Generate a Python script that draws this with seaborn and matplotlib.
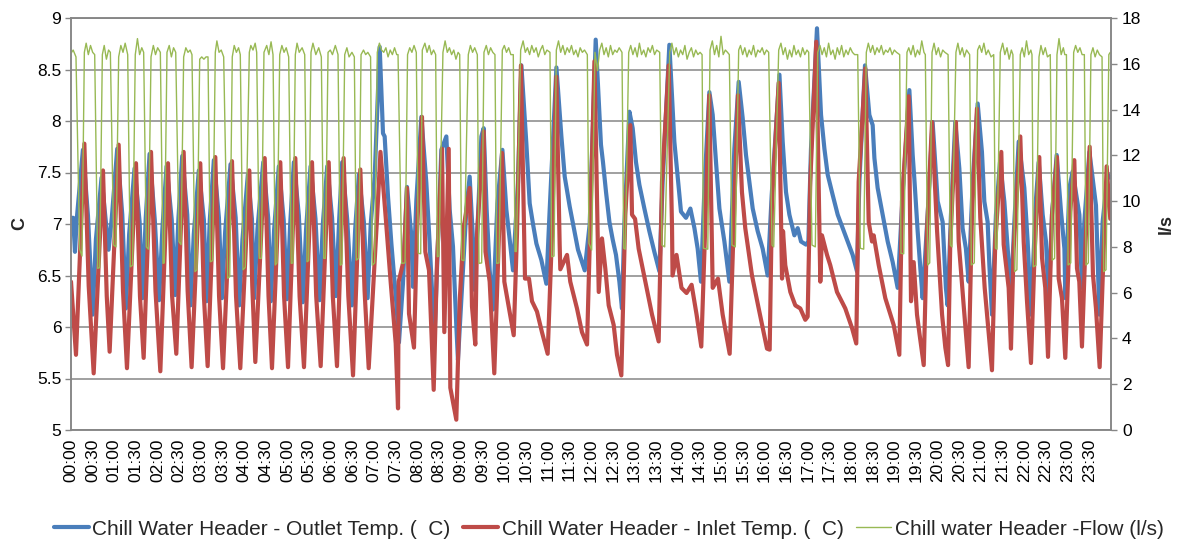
import matplotlib
matplotlib.use("Agg")
import matplotlib.pyplot as plt
import seaborn as sns
import pandas as pd

# minutes after midnight, value
outlet_pts = [
    (0, 7.06), (3, 7.06), (5.5, 6.73), (8, 7.05),
    (16.5, 7.72), (23.5, 7.08), (30, 6.12), (34.5, 6.85),
    (42.3, 7.45), (49.3, 6.95), (52, 6.75), (56.5, 7.06),
    (64, 7.73), (71, 7.09), (76, 6.18), (80.5, 6.90),
    (88, 7.54), (95, 7.02), (99, 6.28), (103.5, 7.06),
    (108.8, 7.68), (116, 7.04), (122, 6.26), (126.5, 6.95),
    (132.3, 7.56), (139.5, 7.04), (144.3, 6.31), (148.8, 7.06),
    (154, 7.66), (161, 7.09), (165.5, 6.21), (170, 6.90),
    (177, 7.52), (184, 7.04), (187.7, 6.25), (192.2, 7.04),
    (197.8, 7.62), (204.8, 7.06), (209, 6.28), (213.5, 6.93),
    (220.9, 7.58), (228, 7.06), (232.9, 6.21), (237.4, 6.85),
    (244.9, 7.48), (250.5, 7.05), (253.7, 6.28), (258.2, 6.95),
    (266.2, 7.60), (273, 7.06), (276.8, 6.25), (281.3, 6.95),
    (287.8, 7.56), (294.5, 7.04), (299, 6.27), (303.5, 7.00),
    (308.6, 7.60), (315.5, 7.08), (321, 6.24), (325.5, 6.95),
    (331.7, 7.56), (338.5, 7.05), (344.2, 6.26), (348.7, 7.00),
    (354.8, 7.56), (361.5, 7.06), (366.8, 6.30), (371.3, 7.04),
    (375.5, 7.60), (382.5, 7.04), (389, 6.21), (393.5, 6.95),
    (398.6, 7.48), (405.5, 7.02), (410.7, 6.28), (415, 7.00),
    (420.5, 7.46), (427.4, 8.72), (432, 7.88), (434.3, 7.85),
    (438.9, 7.27), (443.6, 6.81), (450.5, 6.23), (454.1, 5.85),
    (459.6, 6.42), (465.2, 7.36), (471.3, 6.88), (473.5, 6.39),
    (478.2, 7.23), (485.1, 8.04), (492, 7.40), (496.6, 6.81),
    (501.2, 6.17), (503.5, 5.94), (512.8, 7.72), (519.7, 7.85),
    (524.3, 7.14), (528.9, 6.78), (533.6, 6.00), (535.8, 5.68),
    (547.4, 7.14), (552, 7.46), (556.2, 6.90), (558.9, 6.36),
    (563.5, 7.07), (568.2, 7.85), (571.4, 7.93), (575.5, 7.14),
    (579.7, 6.55), (584.3, 6.17), (590.4, 7.20), (597.3, 7.72),
    (602.8, 7.14), (607.4, 6.85), (612, 6.55), (618.9, 7.40),
    (623.6, 8.54), (630.5, 7.78), (635.1, 7.20), (639.7, 7.00),
    (644.4, 6.81), (651.3, 6.65), (658.2, 6.42), (662.8, 7.14),
    (672.1, 8.52), (679, 7.85), (683.6, 7.46), (690.5, 7.17),
    (695.1, 7.00), (702, 6.75), (711.3, 6.55), (718.2, 7.00),
    (726.5, 8.79), (733.8, 7.77), (736.6, 7.60), (740.8, 7.31),
    (745.5, 7.02), (750, 6.85), (754.6, 6.70), (759.3, 6.44),
    (762.9, 6.18), (766.2, 7.00), (773.2, 8.09), (777.7, 7.93),
    (782.3, 7.60), (787, 7.38), (793.9, 7.15), (800.8, 6.93),
    (807.7, 6.73), (814.7, 6.54), (819.2, 7.41), (828.5, 8.74),
    (835.4, 7.80), (840, 7.46), (844.6, 7.12), (851.5, 7.06),
    (857.6, 7.15), (863.2, 6.96), (867.7, 6.76), (872.3, 6.44),
    (877.4, 7.41), (883.9, 8.28), (888.5, 8.06), (893.1, 7.60),
    (897.8, 7.15), (904.7, 6.83), (911.6, 6.44), (918.5, 7.73),
    (924.5, 8.38), (930, 8.03), (934.6, 7.67), (939.3, 7.41),
    (943.9, 7.15), (950.8, 6.93), (957.7, 6.76), (964.6, 6.50),
    (970.2, 7.28), (980.9, 8.45), (985.4, 7.80), (990, 7.31),
    (994.7, 7.09), (1001.6, 6.89), (1006.2, 6.96), (1010.8, 6.83),
    (1017.7, 6.80), (1021, 6.83), (1024.6, 7.73), (1032.9, 8.90),
    (1038.5, 8.06), (1043.2, 7.73), (1047.7, 7.48), (1054.7, 7.28),
    (1061.6, 7.09), (1068.5, 6.96), (1075.4, 6.83), (1082.3, 6.70),
    (1088.3, 6.54), (1091.6, 7.41), (1099.4, 8.54), (1105.4, 8.06),
    (1110, 7.96), (1112.4, 7.64), (1116.9, 7.35), (1123.8, 7.09),
    (1130.8, 6.83), (1137.7, 6.63), (1144.6, 6.38), (1151.5, 7.28),
    (1160.8, 8.30), (1165.4, 7.67), (1167.7, 7.44), (1172.3, 6.93),
    (1176, 6.57), (1179.2, 6.28), (1186.1, 7.09), (1193, 7.99),
    (1200, 7.22), (1206.9, 7.02), (1211.4, 6.38), (1213.8, 6.21),
    (1218.4, 7.09), (1224.4, 7.99), (1230, 7.54), (1234.5, 6.96),
    (1239.1, 6.76), (1242.9, 6.44), (1248.5, 7.41), (1255.4, 8.17),
    (1261.3, 7.70), (1264.6, 7.22), (1269.2, 7.02), (1271.6, 6.60),
    (1275.2, 6.12), (1280.7, 7.09), (1286.3, 7.60), (1292.3, 7.22),
    (1296.9, 6.76), (1301.5, 6.31), (1306.2, 7.02), (1312.2, 7.80),
    (1320, 7.35), (1324.6, 6.83), (1329.2, 6.12), (1336.2, 7.25),
    (1339.9, 7.60), (1345.4, 7.09), (1350, 6.83), (1353.7, 6.25),
    (1358.3, 7.09), (1364.8, 7.67), (1370.8, 7.12), (1375.5, 6.76),
    (1376.8, 6.28), (1382.4, 7.35), (1386.9, 7.51), (1396.2, 7.09),
    (1399.8, 6.38), (1403.1, 7.02), (1410.1, 7.70), (1419.2, 7.18),
    (1423.9, 6.12), (1428.4, 7.02), (1435.3, 7.48), (1439, 7.45),
]

inlet_pts = [
    (0, 6.44), (6.9, 5.73), (18.5, 7.78), (24.5, 6.40), (31.4, 5.55),
    (44.3, 7.52), (49.5, 6.30), (53.5, 5.76), (66, 7.77), (72, 6.35),
    (77.5, 5.60), (90, 7.59), (95.5, 6.30), (100.6, 5.70), (110.8, 7.70),
    (117, 6.35), (123.7, 5.57), (134.3, 7.59), (140, 6.30), (145.8, 5.74),
    (156, 7.70), (161.5, 6.35), (167, 5.61), (179, 7.59), (184, 6.30),
    (189.2, 5.62), (199.8, 7.65), (205, 6.30), (210.5, 5.60), (222.9, 7.61),
    (228.5, 6.30), (234.4, 5.60), (246.9, 7.52), (251, 6.40), (255.2, 5.66),
    (268.2, 7.64), (273.5, 6.30), (278.3, 5.60), (289.8, 7.60), (295, 6.30),
    (300.5, 5.61), (310.6, 7.64), (316.5, 6.30), (322.6, 5.61), (333.7, 7.60),
    (339.5, 6.30), (345.7, 5.62), (356.8, 7.60), (362.5, 6.30), (368.3, 5.62),
    (377.5, 7.64), (384, 6.30), (390.5, 5.53), (400.6, 7.53), (406.5, 6.35),
    (412.2, 5.60), (423.7, 7.05), (428.5, 7.70), (435.7, 7.07), (442.7, 6.43),
    (449.6, 5.84), (452.8, 5.21), (453.7, 6.44), (460.7, 6.65), (465.2, 7.35),
    (468, 6.13), (474.9, 5.80), (479, 6.90), (486, 8.04), (490.6, 6.73),
    (495.7, 6.55), (502.2, 5.39), (506.8, 6.63), (513.7, 7.73), (516.9, 5.95),
    (523, 7.73), (525.2, 5.41), (533.5, 5.10), (538.2, 6.25), (543.7, 6.96),
    (552, 7.35), (555.2, 6.20), (559.8, 5.83), (562.2, 6.90), (571.4, 7.90),
    (573.9, 6.73), (579.7, 6.44), (586.1, 5.55), (592.6, 6.90), (596.8, 7.69),
    (600, 6.44), (606, 6.20), (613, 5.92), (617.5, 6.90), (623, 8.54),
    (627.6, 6.86), (628.6, 6.47), (634.1, 6.47), (638.3, 6.25), (645.2, 6.15),
    (652.1, 5.95), (660, 5.74), (666, 6.90), (672, 8.43), (676.6, 6.80),
    (677.5, 6.56), (686.8, 6.70), (691.3, 6.44), (700.6, 6.18), (707.5, 5.95),
    (714.5, 5.83), (719, 7.00), (724.8, 8.58), (730.7, 6.34), (735.2, 6.86),
    (739.8, 6.57), (744.5, 6.21), (751.4, 6.02), (756, 5.73), (762, 5.53),
    (767.5, 7.09), (774.4, 7.96), (776.8, 7.09), (781, 7.05), (786, 6.76),
    (795.2, 6.44), (804.5, 6.12), (813.7, 5.86), (818.3, 7.41), (827.6, 8.54),
    (832.2, 6.96), (832.9, 6.50), (838.4, 6.70), (845.3, 6.38), (852.3, 6.33),
    (859.3, 6.41), (866.2, 6.12), (872.7, 5.81), (878.3, 7.00), (883.8, 8.25),
    (887.5, 6.80), (888.5, 6.38), (895.8, 6.47), (902.3, 6.12), (912, 5.74),
    (917.6, 7.00), (923.5, 8.25), (929, 7.31), (933.6, 6.96), (942.9, 6.50),
    (952.2, 6.18), (963.7, 5.79), (967.4, 5.78), (970.6, 7.22), (979.9, 8.37),
    (984.5, 6.47), (985.9, 6.93), (989, 6.60), (996, 6.34), (1002.9, 6.21),
    (1009.8, 6.18), (1016.7, 6.07), (1020, 6.10), (1023.6, 7.41), (1031.9, 8.77),
    (1037.5, 6.44), (1039.8, 6.89), (1046.8, 6.70), (1051.3, 6.60), (1060.6, 6.34),
    (1072.1, 6.18), (1081.4, 5.99), (1087.3, 5.84), (1090.6, 7.41), (1099.8, 8.51),
    (1104.5, 7.02), (1109.1, 6.83), (1111.4, 6.89), (1118.4, 6.60), (1127.5, 6.28),
    (1139.1, 6.02), (1146.9, 5.73), (1150.6, 7.22), (1159.9, 8.24), (1163.1, 6.25),
    (1166.8, 6.63), (1171.4, 6.12), (1175.1, 5.92), (1180.7, 5.63), (1185.2, 6.93),
    (1192.2, 7.99), (1199.2, 6.93), (1206.1, 6.12), (1210.6, 5.80), (1214.4, 5.63),
    (1217.5, 6.83), (1225.3, 7.99), (1229.1, 6.83), (1236, 6.21), (1242.9, 5.61),
    (1247.5, 7.09), (1254.4, 8.12), (1259, 7.06), (1265.1, 6.38), (1275.2, 5.58),
    (1279.8, 6.83), (1288.1, 7.70), (1291.4, 6.80), (1298.3, 6.38), (1301.5, 5.79),
    (1305.2, 6.76), (1314.4, 7.85), (1319.1, 6.83), (1323.7, 6.25), (1329.2, 5.65),
    (1334.3, 6.73), (1340.7, 7.65), (1344.5, 6.67), (1349, 6.38), (1352.8, 5.71),
    (1358.3, 7.09), (1365.2, 7.65), (1367.6, 6.47), (1372.1, 6.28), (1376.7, 5.70),
    (1383.6, 7.12), (1389.2, 7.62), (1392.9, 6.57), (1396.1, 6.44), (1399.8, 5.81),
    (1404.4, 6.76), (1410.5, 7.75), (1415, 6.51), (1419.2, 6.18), (1424.3, 5.61),
    (1429.9, 6.76), (1434, 7.56), (1439, 7.05),
]

flow_pts = [
    (0, 16.46), (3, 16.6), (6.9, 16.3), (12, 7.9), (15.2, 7.6), (18.5, 16.5),
    (21, 16.9), (24, 16.4), (27, 16.8), (30, 16.5),
    (32.8, 16.4), (37, 7.06), (39.7, 7.1), (43.4, 16.4),
    (46, 16.8), (49, 16.2), (52, 16.6),
    (54.5, 16.5), (59.1, 8.08), (62.3, 8.0), (66, 16.3),
    (69, 16.8), (72, 16.5), (75, 16.9),
    (78.5, 16.4), (82.1, 7.13), (85.3, 7.2), (89, 16.4),
    (92, 17.1), (95, 16.4), (98, 16.7),
    (100.6, 16.5), (104.3, 8.0), (107, 7.9), (110.8, 16.3),
    (114, 16.8), (117, 16.4), (120, 16.7),
    (123.7, 16.5), (127.4, 7.28), (129.2, 7.3), (132.9, 16.5),
    (136, 16.8), (139, 16.3), (142, 16.7),
    (145, 16.5), (149.5, 8.23), (152.3, 8.1), (156, 16.3),
    (159, 16.7), (162, 16.5), (165, 16.6),
    (167.5, 16.4), (171.7, 6.92), (174.4, 7.0), (178.2, 16.2),
    (181, 16.3), (184, 16.2), (187, 16.3),
    (189.7, 16.3), (192.9, 7.35), (196.1, 7.4), (199.8, 16.5),
    (202, 17.0), (205, 16.5), (208, 16.6),
    (211.4, 16.3), (217, 6.63), (219.8, 6.7), (223.3, 16.3),
    (226, 16.8), (229, 16.5), (232, 16.7),
    (234.4, 16.4), (238.1, 7.0), (241.3, 7.1), (246.9, 16.5),
    (249, 16.8), (252, 16.6), (255, 16.9),
    (257.1, 16.5), (260.7, 7.5), (263.5, 7.5), (267.2, 16.5),
    (271, 16.8), (274, 16.4), (277, 16.96),
    (279.7, 16.4), (282.9, 7.21), (285.2, 7.3), (289, 16.4),
    (292, 16.8), (295, 16.5), (298, 16.7),
    (301.4, 16.3), (305, 7.28), (307.3, 7.3), (310.6, 16.4),
    (313, 16.9), (316, 16.5), (320, 16.7),
    (323.6, 16.4), (326.8, 7.35), (329.1, 7.4), (332.3, 16.5),
    (335, 16.9), (339, 16.4), (343, 16.7),
    (346.6, 16.3), (349.9, 7.5), (352.2, 7.5), (355.9, 16.5),
    (359, 16.6), (362, 16.4), (366, 16.8),
    (369.7, 16.4), (372.9, 7.2), (375.2, 7.25), (379, 16.4),
    (382, 16.7), (385, 16.3), (389, 16.5),
    (392.3, 16.3), (395, 7.42), (398.3, 7.5), (401.6, 16.4),
    (405, 16.6), (408, 16.4), (411, 16.5),
    (414.8, 16.3), (417.2, 7.2), (420.4, 7.3), (424.1, 16.5),
    (427, 16.9), (430, 16.6), (433, 16.5), (436, 16.7), (439, 16.3),
    (442, 16.6), (445, 16.4), (448, 16.7), (451, 16.4),
    (452.8, 16.4), (457.9, 7.28), (462.5, 7.3), (466, 16.4),
    (469, 16.7), (472, 16.5), (475, 16.8),
    (478.1, 16.5), (480.9, 7.72), (484.2, 7.7), (486.4, 16.6),
    (490, 16.9), (493, 16.5), (496, 16.8), (499, 16.4), (502, 16.6),
    (504.9, 16.4), (507.2, 7.57), (509.5, 7.6), (515, 16.5),
    (518, 17.0), (521, 16.5), (524, 16.7), (527, 16.4), (530, 16.6),
    (533, 16.2), (536, 16.5),
    (538.2, 16.4), (540.9, 7.43), (544.2, 7.4), (550.1, 16.4),
    (553, 16.8), (556, 16.5), (559, 16.7),
    (562.6, 16.4), (564.9, 7.28), (568.6, 7.3), (571.8, 16.5),
    (575, 16.8), (578, 16.4), (581, 16.7), (584, 16.5),
    (587, 16.4), (589.4, 7.28), (592.6, 7.3), (597.2, 16.6),
    (600, 16.8), (603, 16.5), (606, 16.7), (609, 16.4),
    (612.4, 16.4), (614.8, 7.8), (616.6, 7.8), (622.6, 16.6),
    (626, 17.0), (629, 16.5), (632, 16.7), (635, 16.4), (638, 16.8),
    (641, 16.5), (644, 16.7), (647, 16.3), (650, 16.6), (653, 16.8),
    (656, 16.4), (659, 16.6),
    (663.2, 16.5), (665.6, 7.57), (668.8, 7.6), (672, 16.6),
    (675, 17.0), (678, 16.5), (681, 16.8), (684, 16.4), (687, 16.7),
    (690, 16.5), (693, 16.8), (696, 16.4), (699, 16.6), (702, 16.3),
    (705, 16.7), (708, 16.5), (711, 16.6),
    (714.9, 16.4), (717.2, 8.16), (720.9, 7.86), (725.5, 16.5),
    (729, 15.7), (732, 16.6), (735, 16.9), (738, 16.4), (741, 16.7),
    (744, 16.3), (747, 16.8), (750, 16.4), (753, 16.6), (756, 16.5),
    (759, 16.7),
    (762.9, 16.5), (765.3, 7.94), (767.5, 7.9), (772.2, 16.5),
    (775, 16.8), (778, 16.4), (781, 16.7), (784, 16.3), (787, 16.9),
    (790, 16.4), (793, 16.6), (796, 16.3), (799, 16.7), (802, 16.5),
    (805, 16.8), (808, 16.4), (811, 16.6),
    (815.1, 16.5), (818.3, 8.08), (822, 8.0), (829, 16.5),
    (832, 16.9), (835, 16.4), (838, 16.7), (841, 16.3), (844, 16.6),
    (847, 16.4), (850, 16.8), (853, 16.2), (856, 16.5), (859, 16.7),
    (862, 16.3), (865, 16.6), (868, 16.4), (871, 16.5),
    (873.8, 16.4), (875.7, 7.94), (881.7, 7.9), (884.8, 16.6),
    (888, 17.0), (891, 16.4), (894, 16.8), (897, 16.3), (900, 17.2),
    (903, 16.4), (906, 16.6), (909, 16.5),
    (911.5, 16.4), (915.2, 8.08), (919.8, 8.0), (924.5, 16.6),
    (927, 16.8), (930, 16.4), (933, 16.7), (936, 16.3), (939, 16.6),
    (942, 16.4), (945, 16.8), (948, 16.3), (951, 16.6), (954, 16.5),
    (957, 16.7), (960, 16.4), (963, 16.6),
    (966, 16.5), (970.7, 8.08), (973, 8.0), (979.9, 16.6),
    (983, 16.9), (986, 16.4), (989, 16.7), (992, 16.2), (995, 16.6),
    (998, 16.3), (1001, 16.8), (1004, 16.4), (1007, 16.6), (1010, 16.3),
    (1013, 16.7), (1016, 16.4), (1019, 16.6),
    (1021.4, 16.5), (1026, 8.08), (1030.6, 8.0), (1033.9, 16.5),
    (1037, 16.8), (1040, 16.4), (1043, 16.7), (1046, 16.3), (1049, 16.9),
    (1052, 16.4), (1055, 16.6), (1058, 16.2), (1061, 16.7), (1064, 16.4),
    (1067, 16.8), (1070, 16.3), (1073, 16.6), (1076, 16.4), (1079, 16.7),
    (1082, 16.5), (1085, 16.4),
    (1089.3, 16.4), (1092.9, 7.94), (1097.6, 7.9), (1101.2, 16.5),
    (1104, 16.9), (1107, 16.5), (1110, 16.8), (1113, 16.4), (1116, 16.7),
    (1119, 16.5), (1122, 16.8), (1125, 16.4), (1128, 16.6), (1131, 16.5),
    (1134, 16.7), (1137, 16.4), (1140, 16.6), (1143, 16.5),
    (1147.4, 16.4), (1149.2, 7.72), (1153, 7.7), (1157.5, 16.5),
    (1160, 16.7), (1163, 16.4), (1166, 16.8), (1169, 16.3), (1172, 16.6),
    (1175, 16.4), (1178, 17.0), (1181, 16.5),
    (1182.9, 16.4), (1186.2, 7.21), (1189, 7.3), (1192.2, 16.5),
    (1195, 16.9), (1198, 16.4), (1201, 16.7), (1204, 16.3), (1207, 16.6),
    (1210, 16.5),
    (1214.4, 16.4), (1217.5, 8.08), (1219.8, 8.0), (1225.3, 16.5),
    (1228, 16.9), (1231, 16.4), (1234, 16.7), (1237, 16.3), (1240, 16.6),
    (1244.3, 16.4), (1246.6, 7.21), (1250.7, 7.3), (1255.3, 16.6),
    (1258, 16.8), (1261, 16.5), (1264, 16.9), (1267, 16.4), (1270, 16.6),
    (1274, 16.3),
    (1277.6, 16.4), (1280, 7.94), (1282.2, 7.9), (1286.7, 16.5),
    (1290, 16.9), (1293, 16.4), (1296, 16.7), (1299, 16.2), (1302, 16.6),
    (1304.2, 16.4), (1306.5, 6.92), (1309.7, 7.0), (1314.4, 16.4),
    (1317, 16.7), (1320, 16.3), (1323, 17.0), (1326, 16.4), (1329, 16.6),
    (1330.6, 16.4), (1332.5, 7.13), (1336.2, 7.2), (1340.3, 16.3),
    (1343, 16.8), (1346, 16.4), (1349, 16.7), (1352, 16.3),
    (1355.9, 16.4), (1358.6, 7.42), (1361.9, 7.5), (1365.2, 16.4),
    (1368, 17.1), (1371, 16.4), (1374, 16.7), (1376, 16.4),
    (1378.3, 16.4), (1380.6, 7.21), (1384.3, 7.3), (1388.3, 16.5),
    (1391, 16.8), (1394, 16.5), (1397, 16.7), (1400, 16.4),
    (1403.1, 16.4), (1405.4, 7.21), (1408.6, 7.3), (1412.2, 16.4),
    (1415, 16.7), (1418, 16.3), (1421, 16.6), (1424, 16.4),
    (1427.6, 16.3), (1429.9, 6.92), (1433.1, 7.0), (1437, 16.4), (1439, 16.5),
]

tick_labels = [
    "00:00", "00:30", "01:00", "01:30", "02:00", "02:30", "03:00", "03:30",
    "04:00", "04:30", "05:00", "05:30", "06:00", "06:30", "07:00", "07:30",
    "08:00", "08:30", "09:00", "09:30", "10:00", "10:30", "11:00", "11:30",
    "12:00", "12:30", "13:00", "13:30", "14:00", "14:30", "15:00", "15:30",
    "16:00", "16:30", "17:00", "17:30", "18:00", "18:30", "19:00", "19:30",
    "20:00", "20:30", "21:00", "21:30", "22:00", "22:30", "23:00", "23:30",
]
tick_pos = [30 * i for i in range(len(tick_labels))]

outlet_df = pd.DataFrame(outlet_pts, columns=["minute", "value"])
inlet_df = pd.DataFrame(inlet_pts, columns=["minute", "value"])
flow_df = pd.DataFrame(flow_pts, columns=["minute", "value"])

sns.set_style("white")
plt.rcParams["font.family"] = ["Liberation Sans", "DejaVu Sans"]

grey = "#868686"
fig = plt.figure(figsize=(11.84, 5.41), dpi=100)
ax = fig.add_axes([71 / 1184, 111 / 541, 1040 / 1184, 412 / 541])
ax2 = ax.twinx()

sns.lineplot(data=outlet_df, x="minute", y="value", ax=ax, color="#4A7EBB",
             lw=3.0, sort=False, estimator=None,
             label="Chill Water Header - Outlet Temp. (  C)", legend=False)
sns.lineplot(data=inlet_df, x="minute", y="value", ax=ax, color="#BE4B48",
             lw=3.0, sort=False, estimator=None,
             label="Chill Water Header - Inlet Temp. (  C)", legend=False)
sns.lineplot(data=flow_df, x="minute", y="value", ax=ax2, color="#98B954",
             lw=1.0, sort=False, estimator=None,
             label="Chill water Header -Flow (l/s)", legend=False)

ax.set_xlim(0, 1440)
ax.set_ylim(5, 9)
ax2.set_ylim(0, 18)
ax.set_yticks([5, 5.5, 6, 6.5, 7, 7.5, 8, 8.5, 9])
ax.set_yticklabels(["5", "5.5", "6", "6.5", "7", "7.5", "8", "8.5", "9"])
ax2.set_yticks(range(0, 19, 2))
ax.set_xticks(tick_pos)
ax.set_xticklabels(tick_labels, rotation=90)

ax.yaxis.grid(True, color=grey, lw=1.1)
ax.set_axisbelow(True)
for a in (ax, ax2):
    for s in a.spines.values():
        s.set_color(grey)
        s.set_linewidth(1.1)
    a.tick_params(colors=grey, labelcolor="black", labelsize=12.5,
                  length=4, width=1, direction="out")
ax.tick_params(axis="x", length=0, pad=6)
ax.tick_params(axis="y", left=True, pad=3)
ax2.tick_params(axis="y", right=True, pad=4)

ax.set_xlabel("")
ax.set_ylabel("C", fontsize=13, fontweight="bold", labelpad=6)
ax2.set_ylabel("l/s", fontsize=13, fontweight="bold", rotation=90, labelpad=12)

handles = ax.get_lines()[:2] + ax2.get_lines()[:1]
labels = [h.get_label() for h in handles]
fig.legend(handles, labels, loc="center", bbox_to_anchor=(0.514, 0.022),
           ncol=3, frameon=False, fontsize=15, handlelength=1.7,
           handletextpad=0.15, columnspacing=0.6)

fig.savefig("out.png", dpi=100)
